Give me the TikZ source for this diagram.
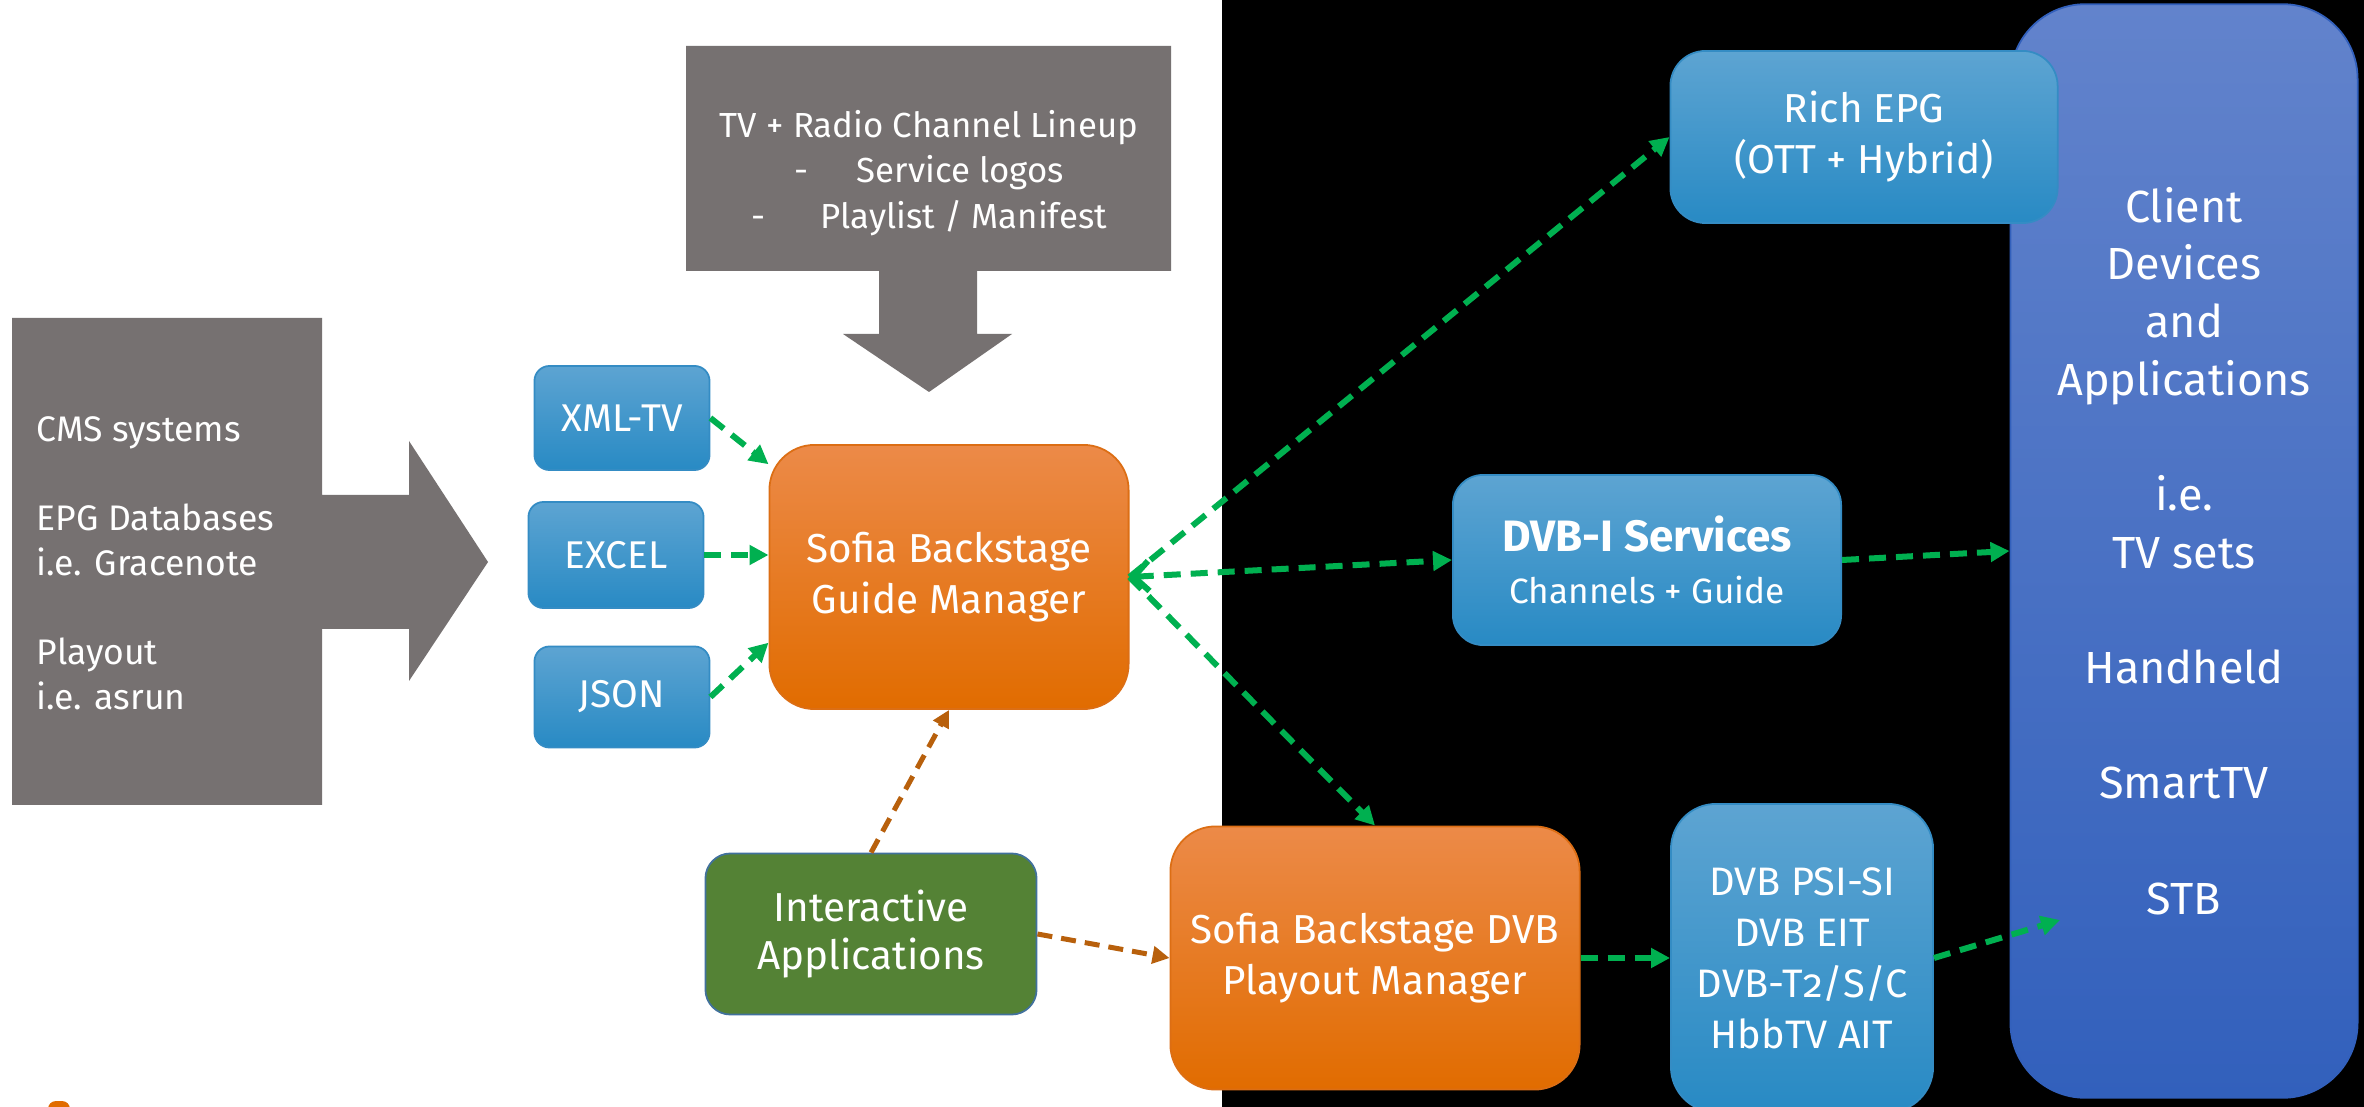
\documentclass[tikz,border=0pt]{standalone}
\usepackage{fontspec}
\setmainfont{Fira Sans}
\usetikzlibrary{arrows.meta}
\definecolor{greyblk}{RGB}{118,113,113}
\definecolor{blutop}{RGB}{93,164,210}
\definecolor{blubot}{RGB}{40,138,196}
\definecolor{bluedge}{RGB}{52,140,196}
\definecolor{orgtop}{RGB}{236,138,72}
\definecolor{orgbot}{RGB}{225,108,0}
\definecolor{orgedge}{RGB}{220,110,20}
\definecolor{appgreen}{RGB}{84,130,53}
\definecolor{appedge}{RGB}{65,113,156}
\definecolor{clienttop}{RGB}{98,131,204}
\definecolor{clientbot}{RGB}{50,96,188}
\definecolor{flowgreen}{RGB}{0,176,80}
\definecolor{flowbrown}{RGB}{184,96,12}

\begin{document}
\begin{tikzpicture}[x=0.01cm,y=-0.01cm,
  every node/.style={text=white,align=center,inner sep=0pt},
  blubox/.style={draw=bluedge,line width=0.5pt,top color=blutop,bottom color=blubot},
  fmtbox/.style={blubox,rounded corners=0.15cm,minimum width=1.75cm,font=\fontsize{11}{13}\selectfont},
  orgbox/.style={draw=orgedge,line width=0.5pt,top color=orgtop,bottom color=orgbot,rounded corners=0.45cm,font=\fontsize{11.5}{14.5}\selectfont},
  gflow/.style={draw=flowgreen,line width=0.06cm,dash pattern=on 0.17cm off 0.1cm,-{Triangle[length=0.19cm,width=0.19cm]}},
  bflow/.style={draw=flowbrown,line width=0.05cm,dash pattern=on 0.15cm off 0.09cm,-{Triangle[length=0.17cm,width=0.17cm]}}]
  \useasboundingbox (0,0) rectangle (2364,1107);
  \clip (0,0) rectangle (2364,1107);
  \fill[white] (0,0) rectangle (1222,1107);
  \fill[black] (1222,0) rectangle (2364,1107);
  % input block arrows
  \fill[greyblk] (12,318) -- (322,318) -- (322,495) -- (409,495) -- (409,441) -- (488,562)
    -- (409,681) -- (409,629) -- (322,629) -- (322,805) -- (12,805) -- cycle;
  \node[anchor=west,align=left,font=\fontsize{10.1}{12.7}\selectfont] (sources) at (36,563)
    {CMS systems\\[12.7pt]EPG Databases\\i.e. Gracenote\\[12.7pt]Playout\\i.e. asrun};
  \fill[greyblk] (686,46) -- (1171,46) -- (1171,271) -- (977,271) -- (977,334) -- (1012,334)
    -- (929,392) -- (843,334) -- (879,334) -- (879,271) -- (686,271) -- cycle;
  \node[font=\fontsize{9.9}{12.9}\selectfont] (lineup) at (929,173)
    {TV + Radio Channel Lineup\\-\hspace{1.4em}Service logos\\-\hspace{1.6em}Playlist / Manifest};
  \fill[orgbot,rounded corners=0.08cm] (48,1101) rectangle (70,1130);
  % boxes
  \node[fmtbox,minimum height=1.04cm] (xmltv) at (622,418) {XML-TV};
  \node[fmtbox,minimum height=1.06cm] (excel) at (616,555) {EXCEL};
  \node[fmtbox,minimum height=1.01cm] (json) at (622,697) {JSON};
  \node[orgbox,minimum width=3.59cm,minimum height=2.64cm] (guide) at (949,577) {Sofia Backstage\\Guide Manager};
  \node[draw=appedge,line width=0.5pt,fill=appgreen,rounded corners=0.25cm,minimum width=3.31cm,minimum height=1.61cm,
    font=\fontsize{11.5}{13.7}\selectfont] (interact) at (871,934) {Interactive\\Applications};
  \node[orgbox,minimum width=4.09cm,minimum height=2.63cm] (playout) at (1375,958) {Sofia Backstage DVB\\Playout Manager};
  \node[draw=clientbot,line width=0.5pt,top color=clienttop,bottom color=clientbot,rounded corners=0.75cm,
    minimum width=3.47cm,minimum height=10.93cm,font=\fontsize{12.8}{16.4}\selectfont] (client) at (2184,551)
    {Client\\Devices\\and\\Applications\\[16.4pt]i.e.\\TV sets\\[16.4pt]Handheld\\[16.4pt]SmartTV\\[16.4pt]STB};
  \node[blubox,rounded corners=0.35cm,minimum width=3.87cm,minimum height=1.72cm,font=\fontsize{11.5}{14.5}\selectfont]
    (richepg) at (1864,137) {Rich EPG\\(OTT + Hybrid)};
  \node[blubox,rounded corners=0.3cm,minimum width=3.88cm,minimum height=1.70cm,font=\fontsize{10}{14.8}\selectfont]
    (dvbi) at (1647,560) {{\fontsize{12.5}{14.8}\selectfont\bfseries DVB-I Services}\\Channels + Guide};
  \node[blubox,rounded corners=0.45cm,minimum width=2.62cm,minimum height=3.08cm,font=\fontsize{11.3}{14.5}\selectfont]
    (psisi) at (1802,958) {DVB PSI-SI\\DVB EIT\\DVB-T{\addfontfeatures{Numbers=OldStyle}2}/S/C\\HbbTV AIT};
  \coordinate (stbin) at (2060,920);
  % flows
  \draw[gflow] (xmltv.east) -- (guide.148);
  \draw[gflow] (excel.east) -- (excel.east -| guide.west);
  \draw[gflow] (json.east) -- (guide.200);
  \draw[gflow] (guide.east) -- (richepg.west);
  \draw[gflow,{Straight Barb[length=0.15cm,width=0.3cm]}-{Triangle[length=0.19cm,width=0.19cm]}] (guide.east) -- (dvbi.west);
  \draw[gflow] (guide.east) -- (playout.north);
  \draw[gflow] (dvbi.east) -- (client.west);
  \draw[gflow] (playout.east) -- (psisi.west);
  \draw[gflow] (psisi.east) -- (stbin);
  \draw[bflow] (interact.north) -- (guide.south);
  \draw[bflow] (interact.east) -- (playout.west);
\end{tikzpicture}
\end{document}
